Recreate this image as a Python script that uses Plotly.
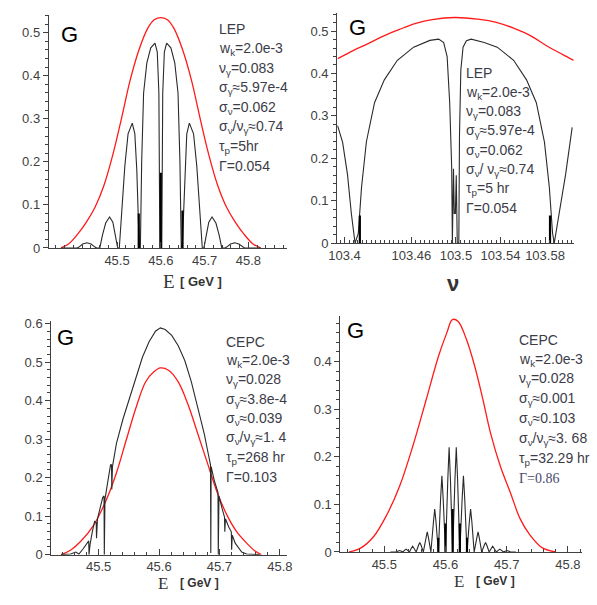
import plotly.graph_objects as go

W, H = 597, 605

# ---------- LEP, G vs E (top left) ----------
lep_e = [45.372, 45.409, 45.413, 45.4215, 45.431, 45.4407, 45.4496, 45.4533, 45.4607, 45.4667,
         45.4741, 45.483, 45.4904, 45.4963, 45.5015, 45.5052, 45.5111, 45.5178, 45.5252, 45.5348,
         45.5407, 45.5452, 45.5489, 45.5511, 45.5533, 45.5563, 45.5607, 45.5681, 45.577, 45.5867,
         45.5919, 45.5956, 45.5978, 45.6022, 45.6044, 45.6081, 45.6133, 45.623, 45.6319, 45.6393,
         45.6437, 45.6467, 45.6489, 45.6511, 45.6548, 45.6593, 45.6652, 45.6748, 45.6822, 45.6889,
         45.6948, 45.6985, 45.7037, 45.7096, 45.717, 45.7259, 45.7333, 45.7393, 45.7467, 45.7504,
         45.7593, 45.7689, 45.7785, 45.7874, 45.7911, 45.828]
lep_g = [0, 0, 0.002, 0.009, 0.012, 0.009, 0.002, 0, 0, 0.03,
         0.058, 0.072, 0.06, 0.03, 0, 0, 0.09, 0.19, 0.265, 0.29,
         0.265, 0.18, 0.06, 0, 0, 0.2, 0.36, 0.43, 0.465, 0.476,
         0.455, 0.36, 0, 0, 0.36, 0.455, 0.476, 0.465, 0.43, 0.36,
         0.2, 0, 0, 0.06, 0.18, 0.265, 0.29, 0.265, 0.19, 0.09,
         0, 0, 0.03, 0.06, 0.072, 0.058, 0.03, 0, 0, 0.002,
         0.009, 0.012, 0.009, 0.002, 0, 0]
lep_red_e = [45.372, 45.39, 45.41, 45.43, 45.45, 45.47, 45.49, 45.51, 45.53, 45.55, 45.57, 45.585, 45.6,
             45.615, 45.63, 45.65, 45.67, 45.69, 45.71, 45.73, 45.75, 45.77, 45.79, 45.81, 45.828]
lep_red_g = [0.0, 0.01, 0.032, 0.06, 0.095, 0.145, 0.215, 0.30, 0.39, 0.46, 0.51, 0.53, 0.535,
             0.53, 0.51, 0.46, 0.39, 0.30, 0.215, 0.145, 0.095, 0.06, 0.032, 0.01, 0.0]
lep_spike_e = [45.5496, 45.6, 45.6496]
lep_spike_g = [0.08, 0.175, 0.087]

# ---------- LEP, G vs nu (top right) ----------
nu_b = [103.3937, 103.3982, 103.4026, 103.4061, 103.4094, 103.4123, 103.4152, 103.4196, 103.4269, 103.4357,
        103.4474, 103.462, 103.4766, 103.4845, 103.489, 103.4921, 103.4944, 103.4962, 103.4968, 103.4978,
        103.4985, 103.4995, 103.5003, 103.5012, 103.5026, 103.5032, 103.5044, 103.5064, 103.5094, 103.5137,
        103.5254, 103.5371, 103.5518, 103.5634, 103.5722, 103.5795, 103.5839, 103.5868, 103.5883, 103.5927,
        103.5985, 103.6044]
g_b = [0.277, 0.238, 0.162, 0.069, 0.0, 0.023, 0.131, 0.239, 0.331, 0.385,
       0.431, 0.462, 0.478, 0.481, 0.473, 0.44, 0.331, 0.177, 0.0, 0.175,
       0.07, 0.07, 0.16, 0.0, 0.0, 0.254, 0.408, 0.462, 0.477, 0.481,
       0.473, 0.462, 0.431, 0.385, 0.331, 0.238, 0.131, 0.023, 0.0, 0.069,
       0.162, 0.273]
nu_red_b = [103.3939, 103.4085, 103.4202, 103.4348, 103.4494, 103.464, 103.4787, 103.4991,
            103.5196, 103.5371, 103.5518, 103.5664, 103.581, 103.5956, 103.6058]
g_red_b = [0.435, 0.455, 0.469, 0.488, 0.504, 0.518, 0.527, 0.532,
           0.528, 0.52, 0.507, 0.49, 0.466, 0.445, 0.431]
nu_spike_b = [103.4137, 103.5845]
g_spike_b = [0.065, 0.065]

# ---------- CEPC, G vs E (bottom left) ----------
e_c = [45.4377, 45.4539, 45.462, 45.4674, 45.4744, 45.4798, 45.4836, 45.4841, 45.4857, 45.4895,
       45.4933, 45.496, 45.4965, 45.4981, 45.5024, 45.5067, 45.5089, 45.5094, 45.5105, 45.5132,
       45.5164, 45.5197, 45.5213, 45.5218, 45.5229, 45.5294, 45.5402, 45.5509, 45.5617, 45.5725,
       45.5833, 45.5941, 45.6022, 45.6102, 45.621, 45.6318, 45.6426, 45.6534, 45.6642, 45.6749,
       45.6814, 45.6852, 45.6857, 45.6863, 45.6911, 45.6965, 45.6976, 45.6981, 45.6992, 45.7046,
       45.7084, 45.7089, 45.71, 45.7154, 45.7197, 45.7202, 45.7213, 45.7261, 45.7315, 45.7369,
       45.745, 45.7666]
g_c = [0, 0.0017, 0.0068, 0.0017, 0.0153, 0.0271, 0.0356, 0, 0.0254, 0.0593,
       0.0864, 0.0831, 0.0424, 0.0932, 0.1229, 0.1483, 0.1525, 0, 0.1441, 0.1737,
       0.2076, 0.2331, 0.2331, 0.1695, 0.2288, 0.2881, 0.3517, 0.4068, 0.4619, 0.5127,
       0.5525, 0.5805, 0.589, 0.5847, 0.5695, 0.5424, 0.5042, 0.4492, 0.3814, 0.3136,
       0.2627, 0.2331, 0.0042, 0.2288, 0.1949, 0.161, 0.161, 0, 0.1525, 0.1186,
       0.0975, 0.0593, 0.0932, 0.072, 0.0593, 0.0127, 0.0508, 0.0297, 0.0169, 0.0068,
       0.0017, 0]
e_red_c = [45.4377, 45.4539, 45.4701, 45.4916, 45.5132, 45.5294, 45.5456, 45.5617, 45.5779, 45.5914, 45.6022,
           45.6156, 45.6318, 45.648, 45.6642, 45.6803, 45.6965, 45.7127, 45.7288, 45.745, 45.7585, 45.7693]
g_red_c = [0, 0.012, 0.034, 0.076, 0.144, 0.212, 0.297, 0.381, 0.449, 0.475, 0.485,
           0.479, 0.449, 0.39, 0.314, 0.237, 0.161, 0.102, 0.059, 0.03, 0.01, 0]

# ---------- CEPC, G vs E (bottom right) ----------
e_d = [45.51, 45.5191,
       45.5229, 45.525, 45.5271, 45.5303, 45.5335, 45.5356, 45.5377, 45.541,
       45.5442, 45.5463, 45.5484, 45.5521, 45.5559, 45.558, 45.5601, 45.5638,
       45.5681, 45.5702, 45.5723, 45.5761, 45.5803, 45.5824, 45.5845, 45.5883,
       45.592, 45.5941, 45.5962, 45.6, 45.6038, 45.6059, 45.608, 45.6117,
       45.6155, 45.6176, 45.6197, 45.6234, 45.6272, 45.6293, 45.6314, 45.6351,
       45.6389, 45.641, 45.6431, 45.6468, 45.6511, 45.6532, 45.6553, 45.6591,
       45.6633, 45.6654, 45.6675, 45.6713, 45.675, 45.6771, 45.6792, 45.683,
       45.6867, 45.6888, 45.6909, 45.6947, 45.6984, 45.7005, 45.7026, 45.7064,
       45.715]
g_d = [0, 0,
       0.002, 0.003, 0.002, 0, 0.004, 0.006, 0.004, 0,
       0.008, 0.012, 0.008, 0, 0.014, 0.02, 0.014, 0,
       0.029, 0.042, 0.029, 0, 0.063, 0.09, 0.063, 0,
       0.112, 0.16, 0.112, 0, 0.154, 0.22, 0.154, 0,
       0.154, 0.22, 0.154, 0, 0.112, 0.16, 0.112, 0,
       0.063, 0.09, 0.063, 0, 0.029, 0.042, 0.029, 0,
       0.014, 0.02, 0.014, 0, 0.008, 0.012, 0.008, 0,
       0.004, 0.006, 0.004, 0, 0.002, 0.003, 0.002, 0,
       0]
e_red_d = [45.4426, 45.4612, 45.4824, 45.5037, 45.525, 45.5463, 45.5676, 45.5888, 45.6021, 45.6112, 45.6207,
           45.634, 45.6473, 45.6606, 45.6739, 45.6899, 45.7059, 45.7218, 45.7378, 45.759, 45.7803]
g_red_d = [0, 0.008, 0.032, 0.077, 0.138, 0.221, 0.316, 0.412, 0.46, 0.488, 0.484,
           0.447, 0.392, 0.323, 0.248, 0.179, 0.125, 0.07, 0.036, 0.008, 0]
e_spike_d = [45.5883, 45.6, 45.6117, 45.6234, 45.6351]
g_spike_d = [0.03, 0.06, 0.09, 0.06, 0.03]

# text blocks
lep_text_a = ["LEP", "w<sub>k</sub>=2.0e-3", "ν<sub>γ</sub>=0.083", "σ<sub>γ</sub>≈5.97e-4",
              "σ<sub>ν</sub>=0.062", "σ<sub>ν</sub>/ν<sub>γ</sub>≈0.74", "τ<sub>p</sub>=5hr", "Γ=0.054"]
lep_text_b = ["LEP", "w<sub>k</sub>=2.0e-3", "ν<sub>γ</sub>=0.083", "σ<sub>γ</sub>≈5.97e-4",
              "σ<sub>ν</sub>=0.062", "σ<sub>ν</sub>/ ν<sub>γ</sub>≈0.74", "τ<sub>p</sub>=5 hr", "Γ=0.054"]
cepc_text_c = ["CEPC", "w<sub>k</sub>=2.0e-3", "ν<sub>γ</sub>=0.028", "σ<sub>γ</sub>≈3.8e-4",
               "σ<sub>ν</sub>≈0.039", "σ<sub>ν</sub>/ν<sub>γ</sub>≈1. 4", "τ<sub>p</sub>=268 hr", "Γ=0.103"]
cepc_text_d = ["CEPC", "w<sub>k</sub>=2.0e-3", "ν<sub>γ</sub>=0.028", "σ<sub>γ</sub>≈0.001",
               "σ<sub>ν</sub>≈0.103", "σ<sub>ν</sub>/ν<sub>γ</sub>≈3. 68", "τ<sub>p</sub>=32.29 hr", "Γ=0.86"]

E_TICKS = [45.5, 45.6, 45.7, 45.8]
NU_TICKS = [103.4, 103.46, 103.5, 103.54, 103.58]

BLACK = "#2a2a2a"
RED = "#ff1a1a"
AXIS = "#404040"
TXT = "#3c3c48"


def px(x):
    return x / W


def py(y):
    return 1 - y / H


def spikes(xs, hs):
    sx, sy = [], []
    for x, h in zip(xs, hs):
        sx += [x, x, None]
        sy += [0, h, None]
    return sx, sy


fig = go.Figure()

panels = [
    # suffix, black x/y, red x/y, spikes
    ("", lep_e, lep_g, lep_red_e, lep_red_g, lep_spike_e, lep_spike_g),
    ("2", nu_b, g_b, nu_red_b, g_red_b, nu_spike_b, g_spike_b),
    ("3", e_c, g_c, e_red_c, g_red_c, [], []),
    ("4", e_d, g_d, e_red_d, g_red_d, e_spike_d, g_spike_d),
]

for sfx, bx, by, rx, ry, spx, sph in panels:
    xa, ya = "x" + sfx, "y" + sfx
    fig.add_trace(go.Scatter(x=rx, y=ry, mode="lines", line=dict(color=RED, width=1.3, shape="spline"),
                             xaxis=xa, yaxis=ya, showlegend=False, hoverinfo="skip"))
    fig.add_trace(go.Scatter(x=bx, y=by, mode="lines", line=dict(color=BLACK, width=1.1),
                             xaxis=xa, yaxis=ya, showlegend=False, hoverinfo="skip"))
    if spx:
        sx, sy = spikes(spx, sph)
        fig.add_trace(go.Scatter(x=sx, y=sy, mode="lines", line=dict(color="black", width=2.2),
                                 xaxis=xa, yaxis=ya, showlegend=False, hoverinfo="skip"))

tickfont = dict(family="Liberation Sans, Arial, sans-serif", size=13, color=AXIS)


def xaxis(rng, dom, ticks, minor_dtick, minor_tick0, anchor):
    return dict(range=rng, domain=dom, anchor=anchor, tickmode="array", tickvals=ticks,
                showline=True, linecolor=AXIS, linewidth=1, ticks="inside", ticklen=6,
                tickcolor=AXIS, showgrid=False, zeroline=False, tickfont=tickfont,
                minor=dict(tickmode="linear", tick0=minor_tick0, dtick=minor_dtick,
                           ticks="inside", ticklen=3, tickcolor=AXIS, showgrid=False))


def yaxis(rng, dom, anchor):
    return dict(range=rng, domain=dom, anchor=anchor, tickmode="linear", tick0=0, dtick=0.1,
                showline=True, linecolor=AXIS, linewidth=1, ticks="outside", ticklen=5,
                tickcolor=AXIS, showgrid=False, zeroline=False, tickfont=tickfont,
                minor=dict(tickmode="linear", tick0=0, dtick=0.02, ticks="outside",
                           ticklen=3, tickcolor=AXIS, showgrid=False))


fig.update_layout(
    width=W, height=H,
    margin=dict(l=0, r=0, t=0, b=0),
    paper_bgcolor="white", plot_bgcolor="white",
    xaxis=xaxis([45.344, 45.889], [px(40.7), px(285)], E_TICKS, 0.02, 45.5, "y"),
    yaxis=yaxis([0, 0.5416], [py(248.3), py(10)], "x"),
    xaxis2=xaxis([103.3933, 103.6058], [px(336), px(578.3)], NU_TICKS, 0.004, 103.4, "y2"),
    yaxis2=yaxis([0, 0.5423], [py(243.3), py(8.3)], "x2"),
    xaxis3=xaxis([45.4216, 45.8124], [px(43.3), px(285)], E_TICKS, 0.02, 45.5, "y3"),
    yaxis3=yaxis([0, 0.606], [py(561.7), py(323.3)], "x3"),
    xaxis4=xaxis([45.4282, 45.8229], [px(339.3), px(586.7)], E_TICKS, 0.02, 45.5, "y4"),
    yaxis4=yaxis([0, 0.4945], [py(559), py(318.3)], "x4"),
)

ann = []


def label(x, y, text, size=14, family="Liberation Sans, Arial, sans-serif", color=TXT,
          xanchor="left", yanchor="middle"):
    ann.append(dict(x=px(x), y=py(y), xref="paper", yref="paper", text=text, showarrow=False,
                    xanchor=xanchor, yanchor=yanchor, font=dict(family=family, size=size, color=color)))


# big "G" in each panel
for gx, gy in [(62, 30), (357, 23), (58, 340), (355, 333)]:
    label(gx, gy, "G", size=22, color="black", xanchor="center")

# parameter blocks
for lines, x0, y0, step in [(lep_text_a, 213, 25, 20), (lep_text_b, 466, 70, 19.7),
                            (cepc_text_c, 220, 344, 19.8), (cepc_text_d, 520, 342, 20.3)]:
    for i, t in enumerate(lines):
        fam = "Liberation Sans, Arial, sans-serif"
        col = TXT
        if lines is cepc_text_d and i == len(lines) - 1:
            fam = "Liberation Serif, Times New Roman, serif"
            col = "#4a4a6e"
        label(x0, y0 + i * step, t, size=14, family=fam, color=col)

# axis titles (bottom ones sit closer to the page edge)
for ex, gx, ty, sz in [(164, 197, 283, 19), (158, 195, 591, 17), (461, 498, 589, 17)]:
    label(ex, ty, "E", size=sz, family="Liberation Serif, Times New Roman, serif", color="#333333",
          xanchor="center")
    label(gx, ty, "<b>[ GeV ]</b>", size=13 if sz == 19 else 12, color="#333333", xanchor="center")
label(455, 285, "<b>ν</b>", size=22, color="#333333", xanchor="center")

fig.update_layout(annotations=ann)

fig.write_html("out.html", config={"displayModeBar": False},
               post_script="document.body.style.margin='0';")
